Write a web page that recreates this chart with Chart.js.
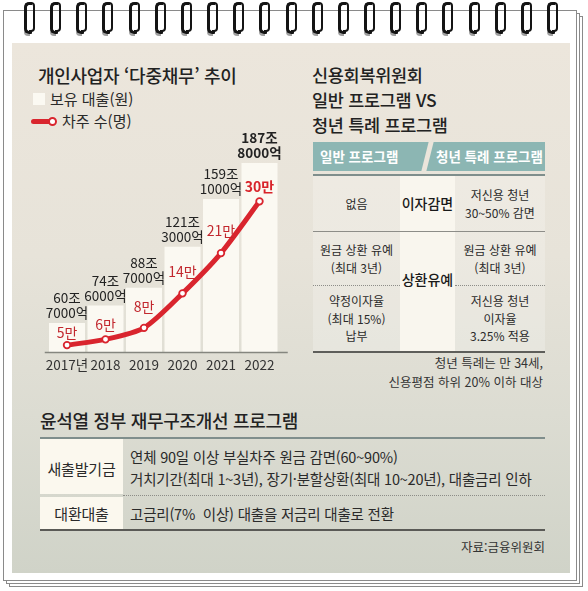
<!DOCTYPE html>
<html lang="ko">
<head>
<meta charset="utf-8">
<title>개인사업자 다중채무 추이</title>
<script src="https://cdn.jsdelivr.net/npm/chart.js@4.4.0/dist/chart.umd.min.js"></script>
<style>
html, body { margin: 0; padding: 0; background: #fff; }
body { width: 588px; height: 591px; position: relative; overflow: hidden;
       font-family: "Noto Sans CJK KR", "Noto Sans", sans-serif; color: #222; }
.abs { position: absolute; white-space: nowrap; }
.sheet { position: absolute; box-sizing: border-box; background: #fff; border: 1px solid #8a8a8a; }
.panel { position: absolute; left: 12px; top: 43px; width: 558px; height: 530px;
         background: linear-gradient(#ece6dc 0%, #e7e3d9 40%, #dcdcd2 70%, #d0d3c8 100%); }
.ring { position: absolute; top: 2px; width: 5px; height: 26px; border: 3px solid #141414;
        border-right: 0; border-radius: 5px 1px 1px 5px; box-shadow: -1px 3px 0 -1px #a0a0a0; }
.ring::after { content: ''; position: absolute; left: 2px; top: -3px; width: 4px; height: 26px;
        border: 2px solid #141414; border-left: 0; border-radius: 1px 4px 4px 1px; }
.title { font-size: 18px; font-weight: 500; line-height: 26px; letter-spacing: -0.3px; }
.legend { font-size: 15px; line-height: 20px; color: #2a2a2a; }
.hdr { position: absolute; top: 142px; height: 29px; background: #8cb6b3; }
.hdrtxt { position: absolute; top: 142px; line-height: 29px; font-size: 13.5px; font-weight: 700; color: #fff; }
.cell { position: absolute; display: flex; align-items: center; justify-content: center;
        text-align: center; font-size: 12px; line-height: 17.5px; color: #2a2a2a; }
.mid { font-size: 14px; font-weight: 500; color: #1a1a1a; }
.note { font-size: 12.5px; line-height: 18px; color: #333; text-align: right; }
.btxt { font-size: 14.5px; line-height: 21px; color: #2a2a2a; letter-spacing: -0.2px; }
</style>
</head>
<body>
<div class="sheet" style="left:9px;top:16px;width:574px;height:571px;"></div>
<div class="sheet" style="left:6px;top:13px;width:574px;height:571px;"></div>
<div class="sheet" style="left:3px;top:10px;width:574px;height:571px;"></div>
<div class="panel"></div>
<div id="rings"></div>

<!-- 왼쪽: 차트 제목과 범례 -->
<div class="abs title" style="left:38px;top:62px;">개인사업자 ‘다중채무’ 추이</div>
<div class="abs" style="left:33px;top:93px;width:12px;height:12px;background:#fbf9f2;"></div>
<div class="abs legend" style="left:50px;top:89px;">보유 대출(원)</div>
<div class="abs" style="left:31px;top:118.5px;width:20px;height:5px;background:#d9252e;border-radius:2.5px;"></div>
<div class="abs" style="left:48px;top:117px;width:5px;height:5px;border:2px solid #d9252e;background:#fff;border-radius:50%;"></div>
<div class="abs legend" style="left:62px;top:111px;">차주 수(명)</div>

<canvas id="chart" class="abs" width="265" height="250" style="left:30px;top:130px;"></canvas>

<!-- 오른쪽: 신용회복위원회 비교표 -->
<div class="abs title" style="left:312px;top:62px;font-size:17.5px;">신용회복위원회</div>
<div class="abs title" style="left:312px;top:87px;font-size:17.5px;">일반 프로그램 VS</div>
<div class="abs title" style="left:312px;top:111.5px;font-size:17.5px;">청년 특례 프로그램</div>

<div class="hdr" style="left:313px;width:232px;"></div>
<div class="abs" style="left:424.5px;top:142px;width:5px;height:29px;background:#ebe5db;transform:skewX(-14deg);"></div>
<div class="hdrtxt" style="left:320px;">일반 프로그램</div>
<div class="hdrtxt" style="left:436px;">청년 특례 프로그램</div>
<div class="abs" style="left:313px;top:174px;width:232px;height:2px;background:#7f8e8c;"></div>

<div class="abs" style="left:313px;top:176px;width:87px;height:176px;background:rgba(255,255,255,0.22);"></div>
<div class="abs" style="left:455px;top:176px;width:90px;height:176px;background:rgba(255,255,255,0.22);"></div>
<div class="abs" style="left:400px;top:176px;width:55px;height:176px;background:#f9f6ee;"></div>
<div class="abs" style="left:313px;top:231px;width:232px;height:1px;background:#8d8d88;"></div>
<div class="abs" style="left:313px;top:285px;width:87px;height:0;border-top:1px dotted #8d8d88;"></div>
<div class="abs" style="left:455px;top:285px;width:90px;height:0;border-top:1px dotted #8d8d88;"></div>
<div class="abs" style="left:313px;top:351px;width:232px;height:1.5px;background:#5e5e5a;"></div>

<div class="cell" style="left:313px;top:176px;width:87px;height:55px;">없음</div>
<div class="cell mid" style="left:400px;top:176px;width:55px;height:55px;">이자감면</div>
<div class="cell" style="left:455px;top:176px;width:90px;height:55px;">저신용 청년<br>30~50% 감면</div>
<div class="cell" style="left:313px;top:232px;width:87px;height:53px;">원금 상환 유예<br>(최대 3년)</div>
<div class="cell mid" style="left:400px;top:232px;width:55px;height:96px;">상환유예</div>
<div class="cell" style="left:455px;top:232px;width:90px;height:53px;">원금 상환 유예<br>(최대 3년)</div>
<div class="cell" style="left:313px;top:286px;width:87px;height:65px;">약정이자율<br>(최대 15%)<br>납부</div>
<div class="cell" style="left:455px;top:286px;width:90px;height:65px;">저신용 청년<br>이자율<br>3.25% 적용</div>

<div class="abs note" style="right:45px;top:354px;">청년 특례는 만 34세,</div>
<div class="abs note" style="right:45px;top:372.5px;">신용평점 하위 20% 이하 대상</div>

<!-- 아래: 재무구조개선 프로그램 -->
<div class="abs title" style="left:40px;top:407px;">윤석열 정부 재무구조개선 프로그램</div>
<div class="abs" style="left:40px;top:437px;width:505px;height:2px;background:#7f8e8c;"></div>
<div class="abs" style="left:40px;top:439px;width:83px;height:55px;background:#fbf8ee;"></div>
<div class="abs" style="left:40px;top:497px;width:83px;height:32px;background:#fbf8ee;"></div>
<div class="abs" style="left:123px;top:495px;width:422px;height:0;border-top:1px dotted #8d8d88;"></div>
<div class="abs" style="left:40px;top:529px;width:505px;height:1.5px;background:#5a5a56;"></div>
<div class="abs btxt" style="left:40px;top:458px;width:83px;text-align:center;font-size:15px;">새출발기금</div>
<div class="abs btxt" style="left:40px;top:503px;width:83px;text-align:center;font-size:15px;">대환대출</div>
<div class="abs btxt" style="left:130px;top:446px;">연체 90일 이상 부실차주 원금 감면(60~90%)</div>
<div class="abs btxt" style="left:130px;top:468px;">거치기간(최대 1~3년), 장기·분할상환(최대 10~20년), 대출금리 인하</div>
<div class="abs btxt" style="left:130px;top:503px;">고금리(7%&nbsp; 이상) 대출을 저금리 대출로 전환</div>
<div class="abs note" style="right:43px;top:538px;font-size:12.5px;">자료:금융위원회</div>

<script>
// 데이터
const years = ['2017년', '2018', '2019', '2020', '2021', '2022'];
const loanTrillion = [60.7, 74.6, 88.7, 121.3, 159.1, 187.8];   // 보유 대출 (조원)
const borrowerTenK = [5, 6, 8, 14, 21, 30];                      // 차주 수 (만명)

const FONT = '"Noto Sans CJK KR", "Noto Sans", sans-serif';

// 스프링 고리
const rings = document.getElementById('rings');
for (let i = 0; i < 21; i++) {
    const r = document.createElement('div');
    r.className = 'ring';
    r.style.left = (24 + i * 26.15) + 'px';
    rings.appendChild(r);
}

// 막대 위 금액, 선 위 차주 수 라벨
const valueLabels = {
    id: 'valueLabels',
    afterDatasetsDraw(chart) {
        const ctx = chart.ctx;
        const area = chart.chartArea;
        ctx.save();

        // 바닥선
        ctx.strokeStyle = '#85867f';
        ctx.lineWidth = 1.5;
        ctx.beginPath();
        ctx.moveTo(area.left - 3, area.bottom + 0.5);
        ctx.lineTo(area.right + 9, area.bottom + 0.5);
        ctx.stroke();

        ctx.textAlign = 'center';
        ctx.textBaseline = 'middle';

        const bars = chart.getDatasetMeta(0).data;
        bars.forEach((bar, i) => {
            const v = loanTrillion[i];
            const jo = Math.floor(v);
            const eok = Math.round((v - jo) * 10000);
            const last = i === bars.length - 1;
            ctx.font = (last ? '700 ' : '400 ') + '13.5px ' + FONT;
            ctx.fillStyle = '#222';
            ctx.fillText(jo + '조', bar.x, bar.y - 25);
            ctx.fillText(eok + '억', bar.x, bar.y - 10);
        });

        const pts = chart.getDatasetMeta(1).data;
        pts.forEach((p, i) => {
            const next = pts[i + 1];
            const slope = next ? Math.abs((next.y - p.y) / (next.x - p.x)) : 0.3;
            const off = 11 + 11 * Math.min(slope, 1);
            const last = i === pts.length - 1;
            ctx.font = (last ? '700 ' : '400 ') + '14px ' + FONT;
            ctx.fillStyle = last ? '#d8232a' : '#c2282e';
            ctx.fillText(borrowerTenK[i] + '만', p.x, p.y - off);
        });
        ctx.restore();
    }
};

new Chart(document.getElementById('chart'), {
    data: {
        labels: years,
        datasets: [{
            type: 'bar',
            label: '보유 대출(원)',
            data: loanTrillion,
            yAxisID: 'y',
            backgroundColor: '#fbf9f2',
            categoryPercentage: 1,
            barPercentage: 0.935,
            order: 2
        }, {
            type: 'line',
            label: '차주 수(명)',
            data: borrowerTenK,
            yAxisID: 'y2',
            borderColor: '#d9252e',
            borderWidth: 5,
            tension: 0.25,
            pointRadius: 3.3,
            pointBorderWidth: 1.8,
            pointBackgroundColor: '#fff',
            pointBorderColor: '#d9252e',
            order: 1
        }]
    },
    options: {
        responsive: false,
        animation: false,
        layout: { padding: { left: 17.75, right: 16.25, top: 15, bottom: 0 } },
        plugins: {
            legend: { display: false },
            tooltip: { enabled: false }
        },
        scales: {
            x: {
                grid: { display: false, drawTicks: false },
                border: { display: false },
                ticks: {
                    color: '#333', font: { family: FONT, size: 13.5 }, padding: 5,
                    maxRotation: 0, minRotation: 0, autoSkip: false
                },
                afterFit(scale) { scale.height = 28; }
            },
            y: { display: false, min: 37.7, max: 202 },
            y2: { display: false, position: 'right', min: 3.8, max: 39.8 }
        }
    },
    plugins: [valueLabels]
});
</script>
</body>
</html>
